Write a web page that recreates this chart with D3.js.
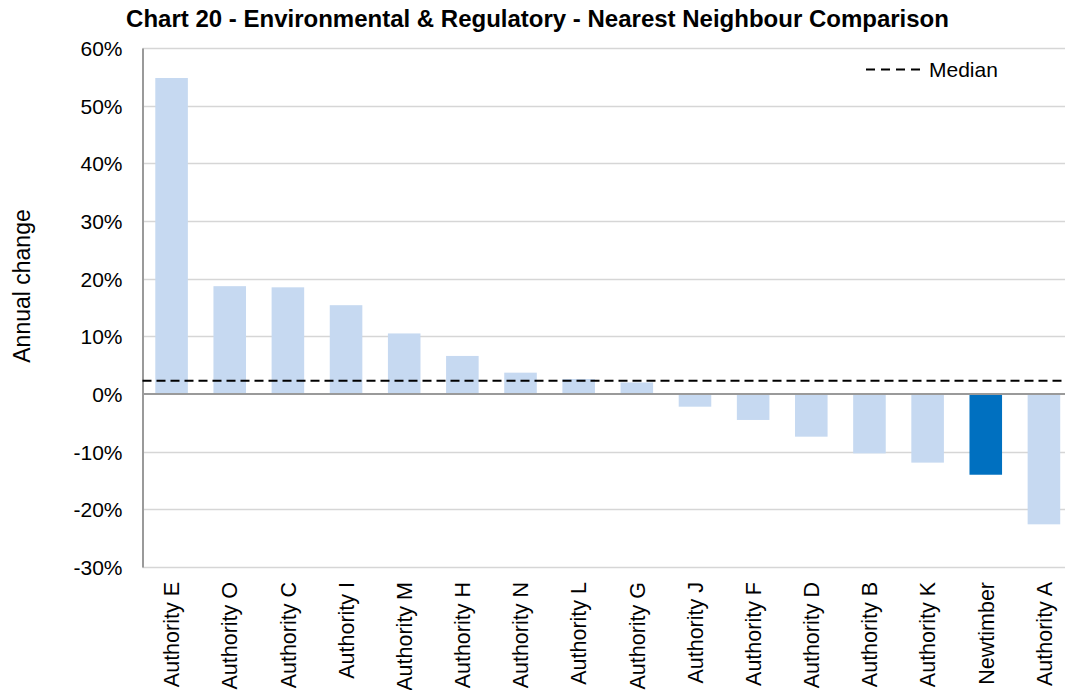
<!DOCTYPE html>
<html><head><meta charset="utf-8">
<script src="https://cdn.jsdelivr.net/npm/d3@7"></script>
<style>
html,body{margin:0;padding:0;background:#fff;}
svg{display:block;font-family:"Liberation Sans",Arial,sans-serif;}
</style></head>
<body><svg id="chart" width="1065" height="690"></svg>
<script>
const categories = ["Authority E","Authority O","Authority C","Authority I","Authority M","Authority H","Authority N","Authority L","Authority G","Authority J","Authority F","Authority D","Authority B","Authority K","Newtimber","Authority A"];
const values = [54.8,18.7,18.5,15.4,10.5,6.6,3.7,2.6,2.0,-2.2,-4.5,-7.4,-10.3,-11.9,-14.0,-22.6];
const medianValue = 2.3;
const yTicks = [-30,-20,-10,0,10,20,30,40,50,60];
const highlight = "Newtimber";
const title = "Chart 20 - Environmental & Regulatory - Nearest Neighbour Comparison";
const yTitle = "Annual change";

const svg = d3.select("#chart");
const m = {left:142.5, right:1073, top:48, bottom:567};

const x = d3.scaleBand().domain(categories).range([m.left, m.right]).paddingInner(0.44).paddingOuter(0.22);
const y = d3.scaleLinear().domain([-30,60]).range([m.bottom, m.top]);

// gridlines
svg.append("g").selectAll("line").data(yTicks.filter(d=>d!==0)).join("line")
  .attr("x1", m.left).attr("x2", m.right)
  .attr("y1", d=>Math.round(y(d))+0.5).attr("y2", d=>Math.round(y(d))+0.5)
  .attr("stroke","#d6d6d6").attr("stroke-width",1.5);

// bars
svg.append("g").selectAll("rect").data(categories).join("rect")
  .attr("x", d=>x(d)).attr("width", x.bandwidth())
  .attr("y", (d,i)=>y(Math.max(0,values[i])))
  .attr("height", (d,i)=>Math.abs(y(values[i])-y(0)))
  .attr("fill", d=> d===highlight ? "#0070c0" : "#c6d9f1");

// y axis
const yAxis = d3.axisLeft(y).tickValues(yTicks).tickFormat(d=>d+"%").tickSize(0).tickPadding(20);
const ya = svg.append("g").attr("transform",`translate(${m.left},0)`).call(yAxis);
ya.select(".domain").attr("stroke","#9a9a9a").attr("stroke-width",2);
ya.selectAll("text").attr("font-size","21px").attr("fill","#000").attr("font-family","Liberation Sans, Arial, sans-serif").attr("dy","0.36em");

// zero line
svg.append("line").attr("x1",m.left).attr("x2",m.right).attr("y1",y(0)).attr("y2",y(0))
  .attr("stroke","#9a9a9a").attr("stroke-width",2);

// x axis labels
const xAxis = d3.axisBottom(x).tickSize(0).tickPadding(0);
const xa = svg.append("g").attr("transform",`translate(0,${m.bottom})`).call(xAxis);
xa.select(".domain").remove();
xa.selectAll("text").attr("font-size","21.5px").attr("fill","#000").attr("font-family","Liberation Sans, Arial, sans-serif")
  .attr("text-anchor","end").attr("transform","rotate(-90)")
  .attr("x",-15).attr("y",0).attr("dy","0.36em");

// median line
svg.append("line").attr("x1",m.left).attr("x2",m.right).attr("y1",y(medianValue)).attr("y2",y(medianValue))
  .attr("stroke","#000").attr("stroke-width",2.2).attr("stroke-dasharray","9,5");

// legend
svg.append("line").attr("x1",866).attr("x2",921).attr("y1",69.5).attr("y2",69.5)
  .attr("stroke","#000").attr("stroke-width",2.2).attr("stroke-dasharray","9,6");
svg.append("text").attr("x",929).attr("y",77).attr("font-size","21px").text("Median");

// title
svg.append("text").attr("x",537.5).attr("y",27).attr("text-anchor","middle")
  .attr("font-size","24px").attr("font-weight","bold").text(title);

// y title
svg.append("text").attr("transform","translate(30,286) rotate(-90)").attr("text-anchor","middle")
  .attr("font-size","23px").text(yTitle);
</script></body></html>
